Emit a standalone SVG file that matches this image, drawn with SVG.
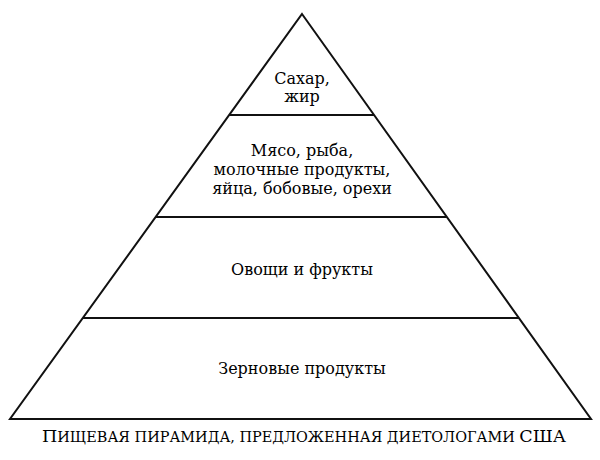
<svg xmlns="http://www.w3.org/2000/svg" width="600" height="460" viewBox="0 0 600 460">
<style>
.ln{stroke:#111;stroke-width:2;fill:none;stroke-linejoin:miter}
.t{font-family:"DejaVu Serif","Liberation Serif",serif;font-size:16px;fill:#000;text-anchor:middle}
.cap{font-family:"DejaVu Serif","Liberation Serif",serif;font-size:17px;fill:#000;text-anchor:middle}
.sc{font-size:14px}
</style>
<rect width="600" height="460" fill="#fff"/>
<g id="connectors">
<polygon class="ln" points="302,14 591,419 10,419"/>
<line class="ln" x1="229" y1="115" x2="374" y2="115"/>
<line class="ln" x1="156" y1="217" x2="447" y2="217"/>
<line class="ln" x1="83" y1="318" x2="519" y2="318"/>
</g>
<g id="sugar">
<text class="t" x="302" y="84">Сахар,</text>
<text class="t" x="302" y="102">жир</text>
</g>
<g id="meat">
<text class="t" x="302" y="156">Мясо, рыба,</text>
<text class="t" x="302" y="175">молочные продукты,</text>
<text class="t" x="302" y="194">яйца, бобовые, орехи</text>
</g>
<g id="veg">
<text class="t" x="302" y="275">Овощи и фрукты</text>
</g>
<g id="grain">
<text class="t" x="302" y="374">Зерновые продукты</text>
</g>
<text class="cap" x="304" y="442" textLength="524" lengthAdjust="spacingAndGlyphs">П<tspan class="sc">ИЩЕВАЯ ПИРАМИДА, ПРЕДЛОЖЕННАЯ ДИЕТОЛОГАМИ </tspan>США</text>
</svg>
